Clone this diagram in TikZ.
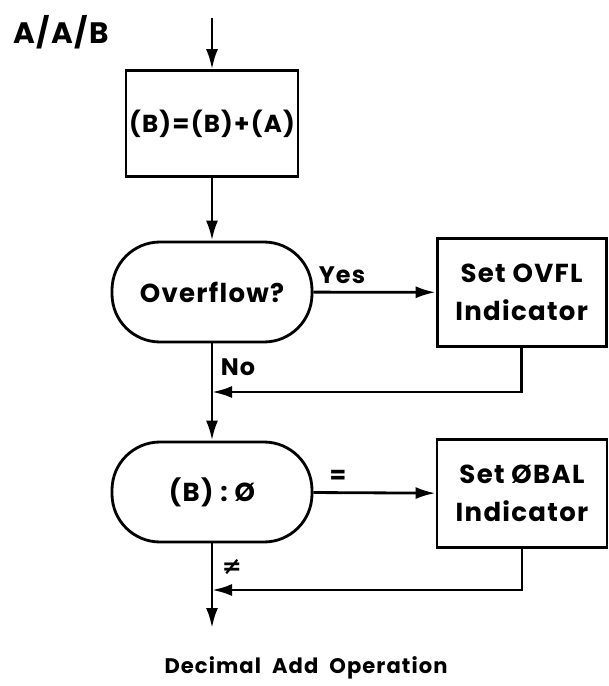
\documentclass[tikz,border=0pt]{standalone}
\usepackage{fontspec}
\setmainfont{Poppins}[LetterSpace=5]
\newfontfamily\symfont{DejaVu Sans}
\usetikzlibrary{arrows.meta}

\begin{document}
\begin{tikzpicture}[
  box/.style={draw,line width=2pt,minimum width=4.3cm,minimum height=2.65cm,inner sep=1pt,
    font=\fontsize{18.5}{27}\selectfont\bfseries,align=center},
  dec/.style={draw,line width=2pt,rounded corners=1.2cm,minimum width=5cm,minimum height=2.5cm,
    font=\fontsize{18.5}{27}\selectfont\bfseries,align=center},
  arr/.style={-{Latex[length=5mm,width=3mm]},line width=2pt},
  lbl/.style={font=\fontsize{17}{20}\selectfont\bfseries}
]
  \useasboundingbox (0,0) rectangle (15.225,-17.15);
  % instruction format
  \node[font=\fontsize{21}{24}\selectfont\bfseries] (fmt) at (1.525,-0.8) {A/A/B};

  % main column
  \coordinate (in) at (5.3,-0.45);
  \node[box,font=\fontsize{17.5}{27}\selectfont\bfseries] (add) at (5.3,-3.09) {(B)=(B)+(A)};
  \node[dec] (ovfl) at (5.3,-7.3) {Overflow?};
  \node[dec] (bcmp) at (5.3,-12.3) {(B) : Ø};
  \coordinate (j1) at (5.3,-9.8);
  \coordinate (j2) at (5.3,-14.75);
  \coordinate (out) at (5.3,-15.7);

  % side boxes
  \node[box,minimum width=4.225cm,minimum height=2.7cm] (setovfl) at (13.04,-7.31) {Set OVFL\\Indicator};
  \node[box,minimum width=4.25cm,minimum height=2.7cm] (setzbal) at (13.05,-12.34) {Set ØBAL\\Indicator};

  \draw[arr] (in) -- (add);
  \draw[arr] (add) -- (ovfl);
  \draw[arr] (ovfl) -- (setovfl);
  \draw[arr] (setovfl.south) |- (j1);
  \draw[arr] (ovfl) -- (bcmp);
  \draw[arr] (bcmp) -- (setzbal);
  \draw[arr] (setzbal.south) |- (j2);
  \draw[arr] (bcmp) -- (out);

  % branch labels
  \node[lbl] (yes) at (8.55,-6.875) {Yes};
  \node[lbl] (no) at (5.95,-9.175) {No};
  \node[lbl] (eq) at (8.45,-11.925) {=};
  \node[lbl,font=\symfont\fontsize{17}{20}\selectfont\bfseries] (ne) at (5.8,-14.175) {≠};

  % caption
  \node[font=\fontsize{15}{18}\selectfont\bfseries] (cap) at (7.65,-16.7) {Decimal\ \ Add\ \ Operation};
\end{tikzpicture}
\end{document}
